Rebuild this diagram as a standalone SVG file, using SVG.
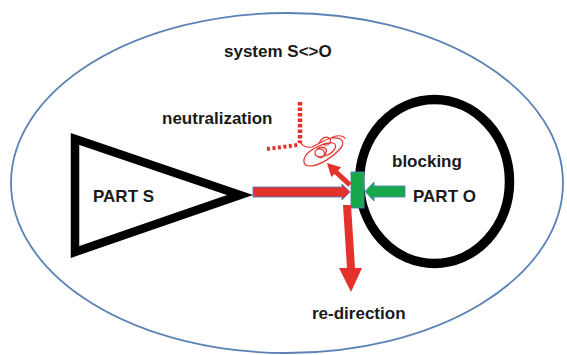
<svg xmlns="http://www.w3.org/2000/svg" width="567" height="355" viewBox="0 0 567 355">
  <style>
    .lbl { font-family: "Liberation Sans", Arial, sans-serif; font-weight: bold; font-size: 17px; fill: #1a1a1a; }
    .red { fill: #e3322b; }
    .outlined { stroke: #4f81bd; stroke-width: 0.9; }
    .green { fill: #17a84b; }
    .dots { fill: none; stroke: #e3322b; }
  </style>
  <rect width="567" height="355" fill="#ffffff"/>

  <!-- system boundary -->
  <g id="system">
    <ellipse cx="287" cy="183" rx="276" ry="170" fill="none" stroke="#5b82b5" stroke-width="1.8"/>
    <text class="lbl" x="224" y="57">system S&lt;&gt;O</text>
  </g>

  <!-- part S -->
  <g id="part-s">
    <polygon points="75,139 75,252 240,195" fill="none" stroke="#000" stroke-width="8.5" stroke-linejoin="miter"/>
    <text class="lbl" x="93" y="202">PART S</text>
  </g>

  <!-- part O -->
  <g id="part-o">
    <ellipse cx="434.5" cy="181.5" rx="75" ry="82" fill="none" stroke="#000" stroke-width="9.5"/>
    <text class="lbl" x="392" y="167">blocking</text>
    <text class="lbl" x="413" y="202">PART O</text>
  </g>

  <!-- actions between the parts -->
  <g id="connectors">
    <!-- action of S -->
    <path class="red outlined" d="M253,187 H342 V184 L350,192 L342,200 V197 H253 Z"/>
    <!-- counter-action of O -->
    <path class="green outlined" d="M405,186 H374 V182 L365,191.5 L374,201 V197 H405 Z"/>
    <!-- block -->
    <rect class="green outlined" x="351" y="172" width="13" height="36"/>
    <!-- re-direction -->
    <path class="red" d="M343,205 L351,205 L355,268 L362,268 L351,292 L339,268 L347,268 Z"/>
    <!-- deflection toward neutralization -->
    <polygon class="red" points="348.2,186.8 334.4,173.9 331.3,177.1 327,163 341.1,167.3 338,170.4 351.8,183.2"/>
    <!-- neutralization -->
    <line class="dots" x1="300" y1="102" x2="300" y2="143" stroke-width="4.5" stroke-dasharray="3.5 2"/>
    <line class="dots" x1="267" y1="149" x2="298" y2="145" stroke-width="4" stroke-dasharray="3 2.5"/>
    <path fill="none" stroke="#e3322b" stroke-width="1.2" stroke-linecap="round"
      d="M299,141 C302,146 306,148 312,147 C318,145 324,139 332,138 C342,137 346,142 340,149 C334,156 320,166 310,166 C302,166 302,158 309,152 C315,147 326,142 333,143 C339,145 334,153 325,156
         M317,149 c5,-4 11,-1 9,4 c-2,5 -11,5 -11,0 c0,-4 6,-6 9,-2 c2,4 -2,8 -6,6
         M319,143 c2,-5 8,-8 11,-4 c2,4 -3,8 -7,5 M331,138 c5,-3 11,-3 14,0"/>
  </g>

  <!-- action labels -->
  <g id="labels">
    <text class="lbl" x="162" y="124">neutralization</text>
    <text class="lbl" x="312" y="319">re-direction</text>
  </g>
</svg>
